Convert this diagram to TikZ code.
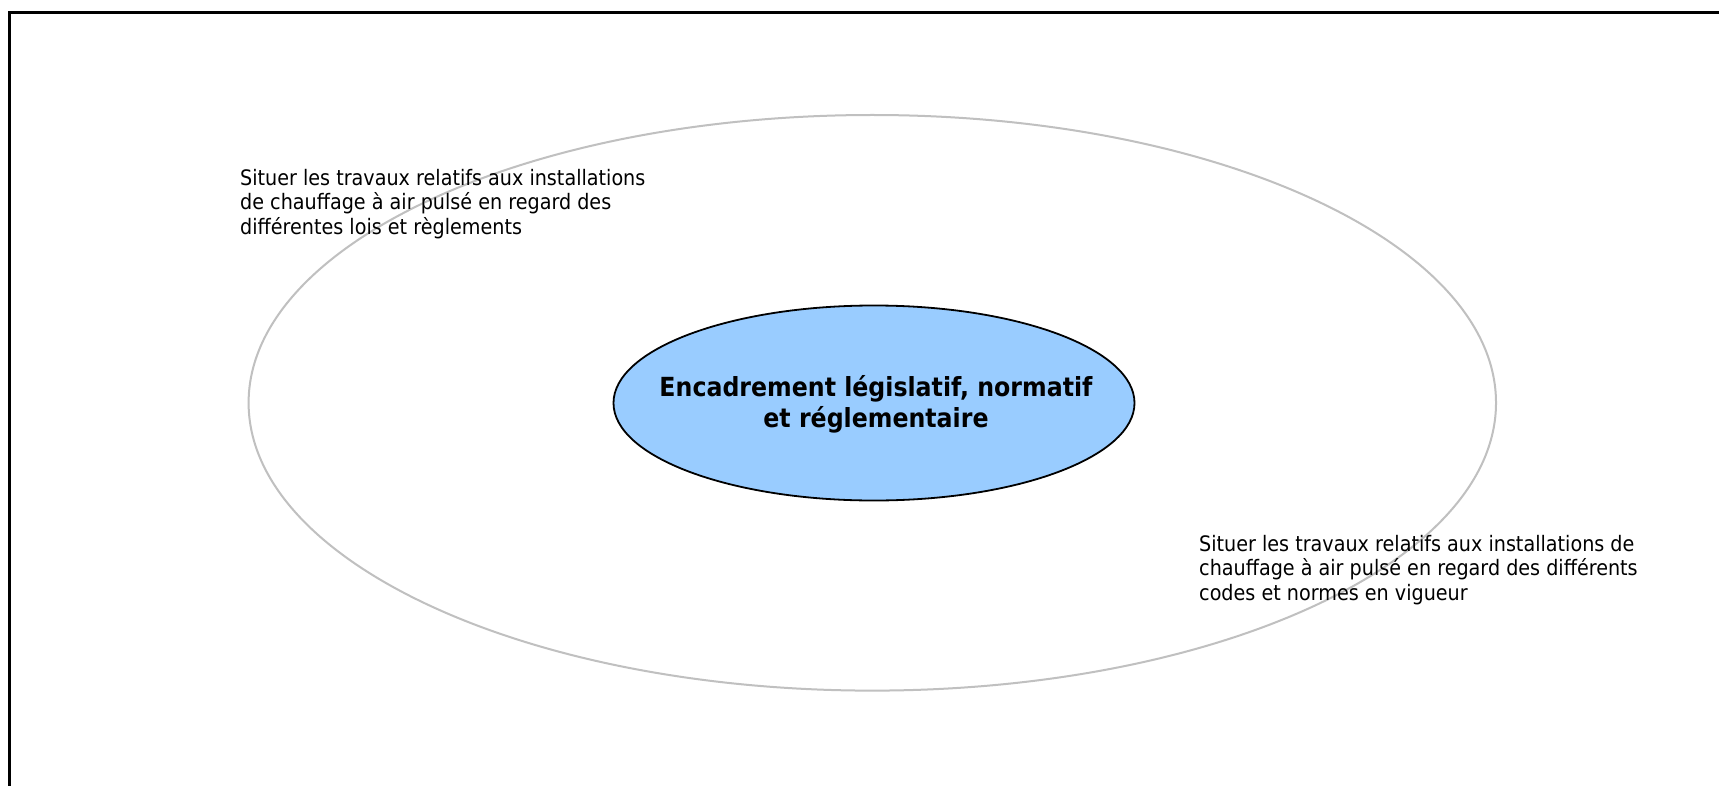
\documentclass[tikz,border=0pt]{standalone}
\usepackage{fontspec}
\setmainfont{DejaVu Sans}[FakeStretch=0.9]
\usetikzlibrary{shapes.geometric}
\definecolor{ringgray}{RGB}{192,192,192}
\definecolor{coreblue}{RGB}{153,204,255}
\tikzset{
  frameline/.style={line width=2.5bp, draw=black},
  ring/.style={ellipse, draw=ringgray, line width=2bp, inner sep=0pt},
  core/.style={ellipse, draw=black, fill=coreblue, line width=1.8bp, inner sep=0pt},
  note/.style={inner sep=0pt, align=left, anchor=base west, font=\fontsize{21.3bp}{24.4bp}\selectfont},
  title/.style={inner sep=0pt, align=center, anchor=base, font=\fontsize{26.3bp}{30.5bp}\selectfont\bfseries}
}
\begin{document}
\begin{tikzpicture}[x=1bp,y=-1bp]
\useasboundingbox (0,0) rectangle (1719,786);
\fill[white] (0,0) rectangle (1719,786);
\coordinate (fb) at (9.5,790);
\coordinate (fc) at (9.5,12.5);
\coordinate (fr) at (1725,12.5);
\draw[frameline] (fb) -- (fc) -- (fr);
\node[ring, minimum width=1247.4bp, minimum height=575.6bp] (outer) at (872.3,402.8) {};
\node[core, minimum width=521bp, minimum height=195bp] (inner) at (874,403) {};
% base anchor of a multi-line node is the baseline of its last line
\node[title] (ttl) at (876,427) {Encadrement législatif, normatif\\et réglementaire};
\node[note] (lefttext) at (240,234) {Situer les travaux relatifs aux installations\\de chauffage à air pulsé en regard des\\différentes lois et règlements};
\node[note] (righttext) at (1199,600) {Situer les travaux relatifs aux installations de\\chauffage à air pulsé en regard des différents\\codes et normes en vigueur};
\end{tikzpicture}
\end{document}
